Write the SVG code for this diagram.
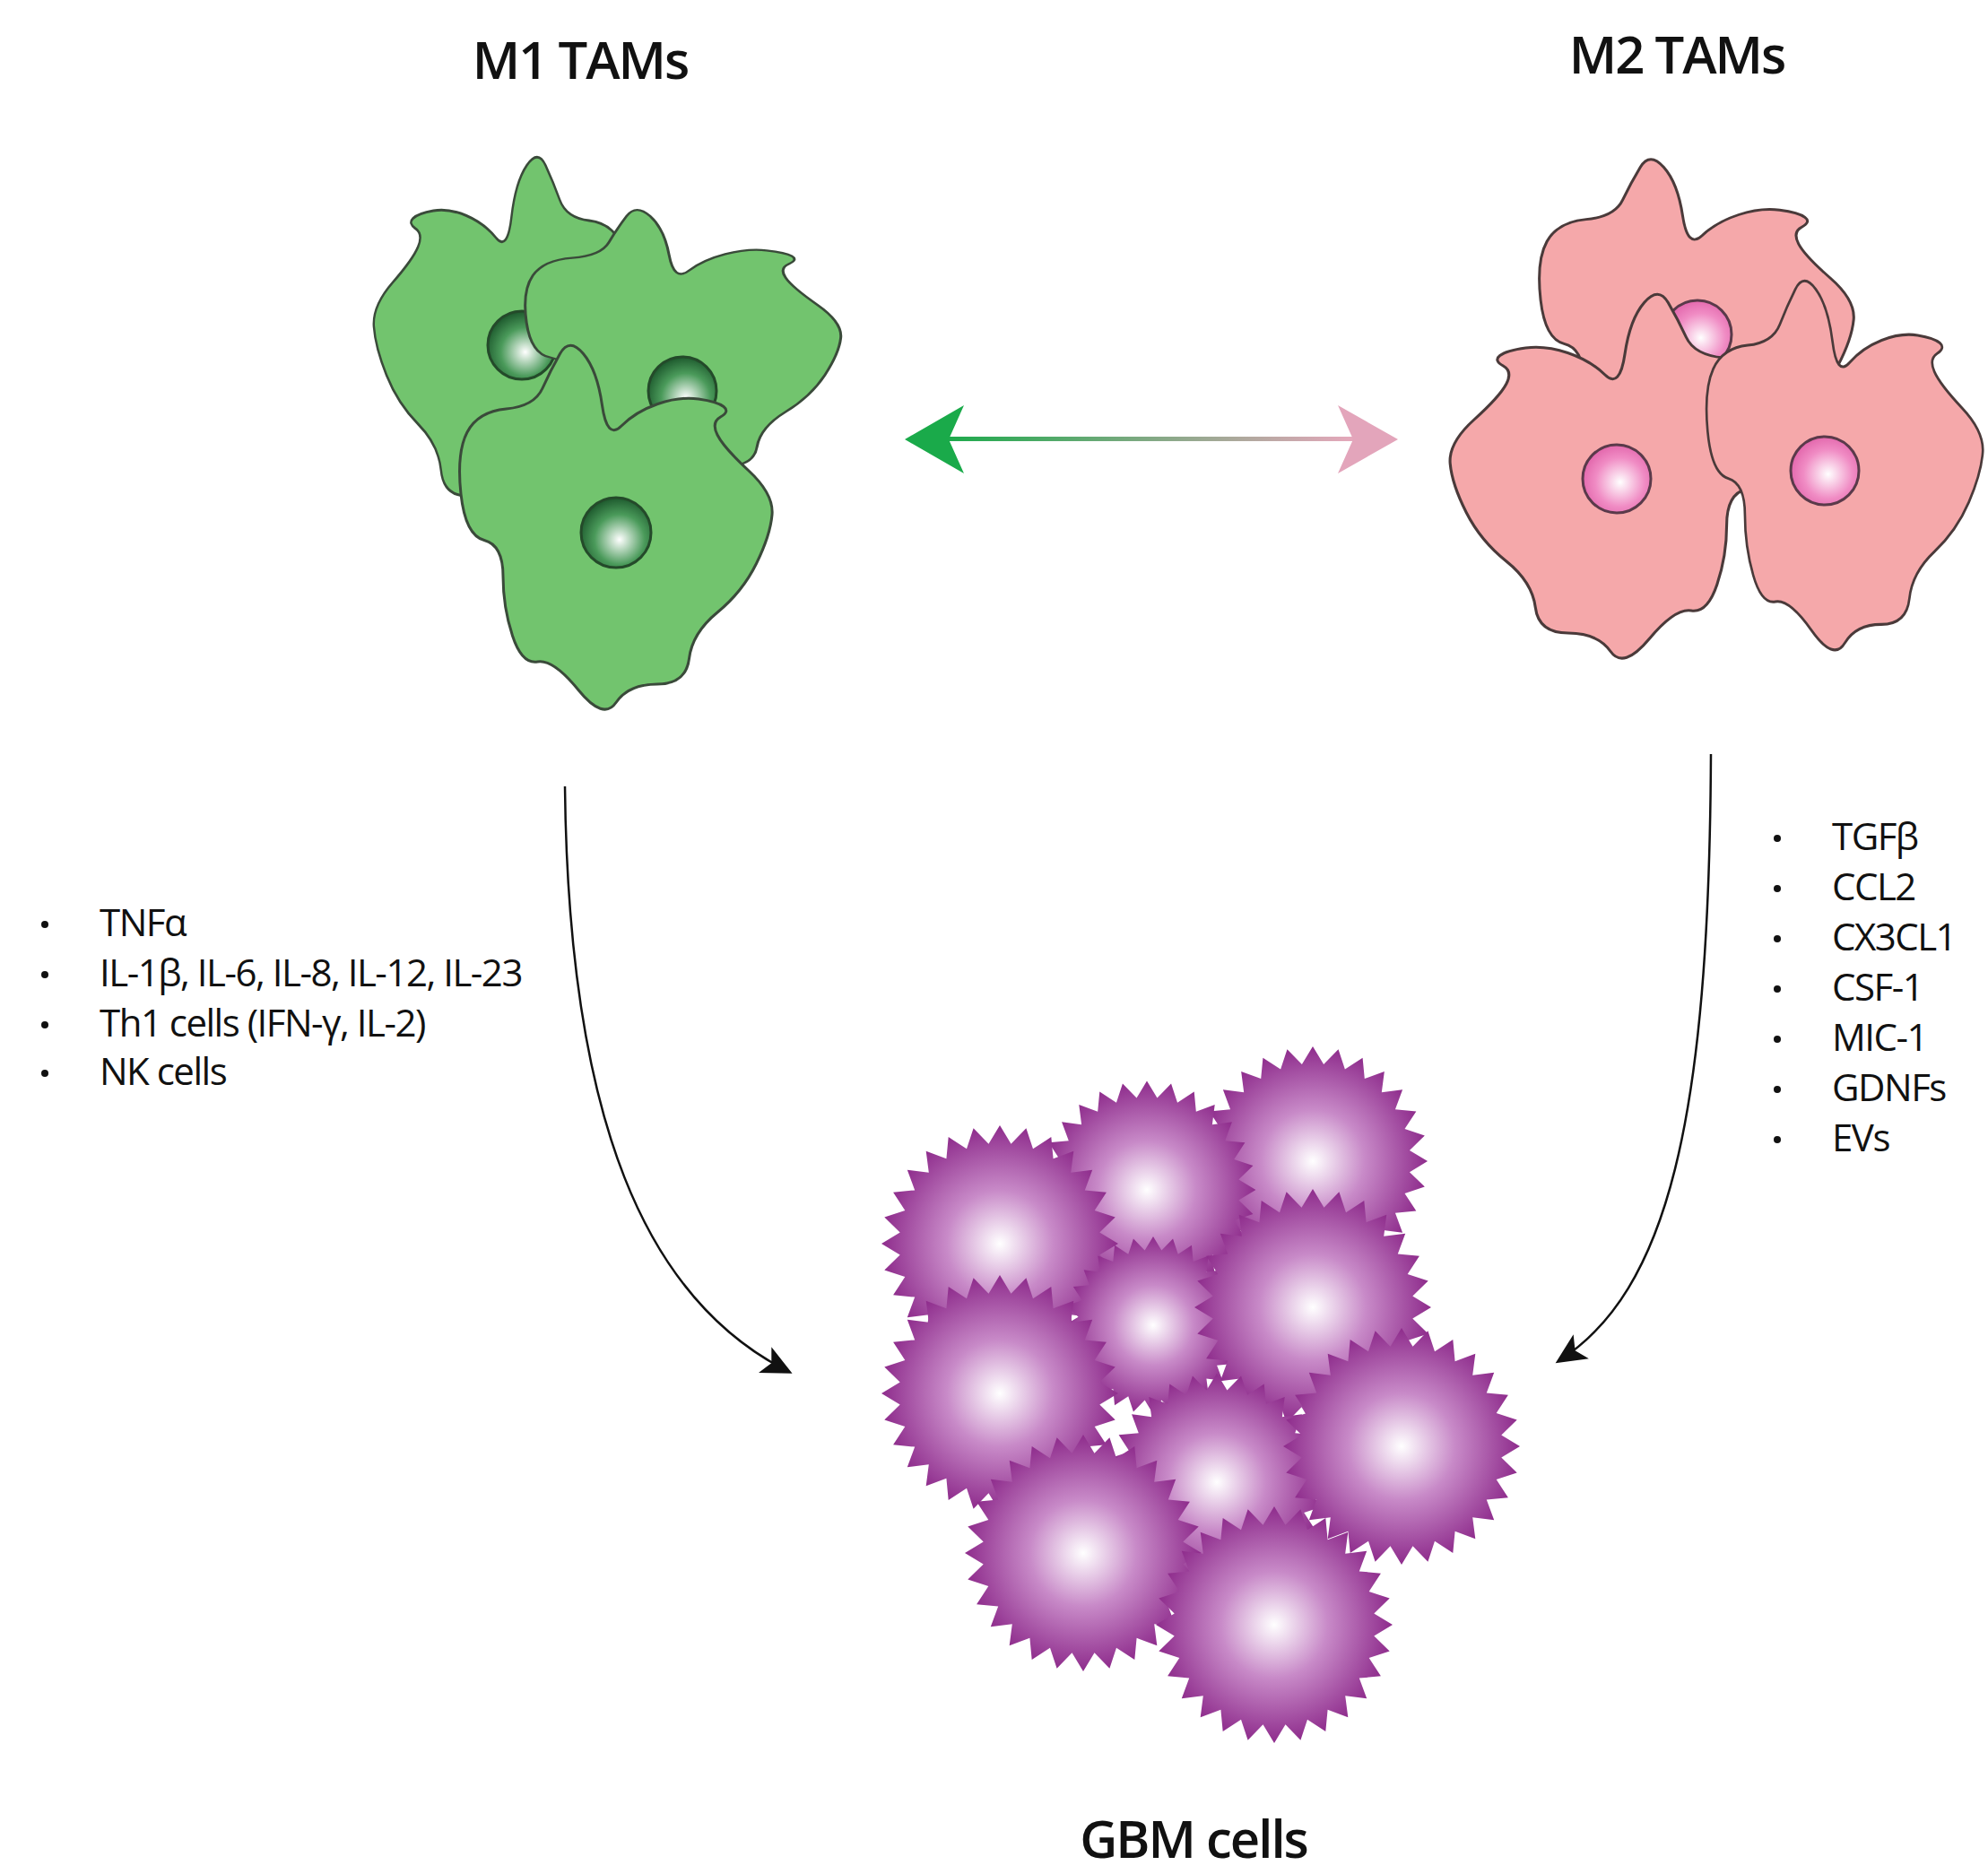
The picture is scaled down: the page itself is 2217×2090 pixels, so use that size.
<svg xmlns="http://www.w3.org/2000/svg" xmlns:xlink="http://www.w3.org/1999/xlink" width="2217" height="2090" viewBox="0 0 2217 2090">
<style>
text{font-family:"Open Sans","Liberation Sans",sans-serif;fill:#111}
.title{font-size:58px;font-weight:600;letter-spacing:-2px}
.lbl{font-size:42px;letter-spacing:-1.5px}
.gcell{fill:#72c46e;stroke:#3a4a3a;stroke-width:3}
.pcell{fill:#f5a8aa;stroke:#4a3a3a;stroke-width:3}
.gnuc{fill:url(#gn);stroke:#244a2a;stroke-width:3}
.pnuc{fill:url(#pn);stroke:#5a3a4a;stroke-width:3}
.conn{fill:none;stroke:#111;stroke-width:2.5}
</style>
<defs>
<radialGradient id="gn" cx="0.55" cy="0.6" r="0.6"><stop offset="0" stop-color="#fff"/><stop offset="0.6" stop-color="#4a9a5a"/><stop offset="1" stop-color="#1e5a2e"/></radialGradient>
<radialGradient id="pn" cx="0.55" cy="0.55" r="0.6"><stop offset="0" stop-color="#fff"/><stop offset="0.6" stop-color="#f08cc4"/><stop offset="1" stop-color="#e060a8"/></radialGradient>
<radialGradient id="tum" cx="0.5" cy="0.5" r="0.5"><stop offset="0" stop-color="#fff"/><stop offset="0.45" stop-color="#c88ac8"/><stop offset="1" stop-color="#8e2c8c"/></radialGradient>
<linearGradient id="arr" x1="0" x2="1" y1="0" y2="0"><stop offset="0" stop-color="#1aaa4a"/><stop offset="1" stop-color="#e6a8bc"/></linearGradient>
<path id="amoeba" d="M624.5,394.5 Q614,413 605,433 Q596,453 564.5,456 Q533,459 521,482 Q509,505 514,551 Q519,597 540,602.5 Q561,608 561,642.5 Q561,677 571.5,709 Q582,741 599.5,738 Q617,735 645,769.5 Q673,804 687,783.5 Q701,763 733,763 Q765,763 768.5,734.5 Q772,706 800,683 Q828,660 843.5,628.5 Q859,597 861,574 Q863,551 835,525 Q807,499 800,485 Q793,471 803.5,465 Q814,459 807,453.5 Q800,448 779,445 Q758,442 733.5,450.5 Q709,459 693,475 Q677,491 671.5,452 Q666,413 650.5,394.5 Q635,376 624.5,394.5 Z"/>
<path id="star" fill="url(#tum)" d="M132,0 L111.3,12.5 128.7,29.4 105.7,37 118.9,57.3 94.8,59.6 103.2,82.3 79.2,79.2 82.3,103.2 59.6,94.8 57.3,118.9 37,105.7 29.4,128.7 12.5,111.3 0,132 -12.5,111.3 -29.4,128.7 -37,105.7 -57.3,118.9 -59.6,94.8 -82.3,103.2 -79.2,79.2 -103.2,82.3 -94.8,59.6 -118.9,57.3 -105.7,37 -128.7,29.4 -111.3,12.5 -132,0 -111.3,-12.5 -128.7,-29.4 -105.7,-37 -118.9,-57.3 -94.8,-59.6 -103.2,-82.3 -79.2,-79.2 -82.3,-103.2 -59.6,-94.8 -57.3,-118.9 -37,-105.7 -29.4,-128.7 -12.5,-111.3 0,-132 12.5,-111.3 29.4,-128.7 37,-105.7 57.3,-118.9 59.6,-94.8 82.3,-103.2 79.2,-79.2 103.2,-82.3 94.8,-59.6 118.9,-57.3 105.7,-37 128.7,-29.4 111.3,-12.5 Z"/>
<marker id="ahb" markerWidth="36" markerHeight="36" refX="30" refY="18" orient="auto" markerUnits="userSpaceOnUse"><path d="M0,2 L34,18 L0,34 L8,18 Z" fill="#111"/></marker>
</defs>

<g id="m1-tams">
<text class="title" x="647" y="88" text-anchor="middle">M1 TAMs</text>
<use href="#amoeba" class="gcell" transform="matrix(-0.81 0 0 1 1114.3 -210)"/>
<circle class="gnuc" cx="582" cy="385" r="38"/>
<use href="#amoeba" class="gcell" transform="matrix(1.01 0 0 0.757 68 -57.6)"/>
<circle class="gnuc" cx="761" cy="436" r="38"/>
<use href="#amoeba" class="gcell"/>
<circle class="gnuc" cx="687" cy="594" r="39"/>
</g>

<g id="m2-tams">
<text class="title" x="1870" y="82" text-anchor="middle">M2 TAMs</text>
<use href="#amoeba" class="pcell" transform="matrix(1.006 0 0 0.946 1201 -186.7)"/>
<circle class="pnuc" cx="1893" cy="373" r="38"/>
<use href="#amoeba" class="pcell" transform="matrix(-1.028 0 0 1 2502.3 -57)"/>
<circle class="pnuc" cx="1803" cy="534" r="38"/>
<use href="#amoeba" class="pcell" transform="matrix(0.884 0 0 1.014 1450 -77.3)"/>
<circle class="pnuc" cx="2035" cy="525" r="38"/>
</g>

<g id="gbm-cells">
<use href="#star" transform="translate(1464,1295) scale(0.97)"/>
<use href="#star" transform="translate(1279,1327) scale(0.92)"/>
<use href="#star" transform="translate(1115,1387)"/>
<use href="#star" transform="translate(1286,1478) scale(0.75)"/>
<use href="#star" transform="translate(1464,1458)"/>
<use href="#star" transform="translate(1357,1653) scale(0.92)"/>
<use href="#star" transform="translate(1115,1554)"/>
<use href="#star" transform="translate(1563,1613)"/>
<use href="#star" transform="translate(1208,1732)"/>
<use href="#star" transform="translate(1421,1812)"/>
<text class="title" x="1331" y="2072" text-anchor="middle">GBM cells</text>
</g>

<g id="m1-factors">
<circle cx="50" cy="1031" r="4" fill="#111"/><text class="lbl" x="111" y="1044">TNFα</text>
<circle cx="50" cy="1087" r="4" fill="#111"/><text class="lbl" x="111" y="1100">IL-1β, IL-6, IL-8, IL-12, IL-23</text>
<circle cx="50" cy="1143" r="4" fill="#111"/><text class="lbl" x="111" y="1156">Th1 cells (IFN-γ, IL-2)</text>
<circle cx="50" cy="1197" r="4" fill="#111"/><text class="lbl" x="111" y="1210">NK cells</text>
</g>

<g id="m2-factors">
<circle cx="1982" cy="935" r="4" fill="#111"/><text class="lbl" x="2043" y="948">TGFβ</text>
<circle cx="1982" cy="991" r="4" fill="#111"/><text class="lbl" x="2043" y="1004">CCL2</text>
<circle cx="1982" cy="1047" r="4" fill="#111"/><text class="lbl" x="2043" y="1060">CX3CL1</text>
<circle cx="1982" cy="1103" r="4" fill="#111"/><text class="lbl" x="2043" y="1116">CSF-1</text>
<circle cx="1982" cy="1159" r="4" fill="#111"/><text class="lbl" x="2043" y="1172">MIC-1</text>
<circle cx="1982" cy="1215" r="4" fill="#111"/><text class="lbl" x="2043" y="1228">GDNFs</text>
<circle cx="1982" cy="1271" r="4" fill="#111"/><text class="lbl" x="2043" y="1284">EVs</text>
</g>

<g id="connectors">
<rect x="1050" y="487" width="460" height="5" fill="url(#arr)"/>
<path d="M1009,490 L1075,452 L1058,490 L1075,528 Z" fill="#1aaa4a"/>
<path d="M1559,490 L1492,452 L1509,490 L1492,528 Z" fill="#e3a5bb"/>
<path class="conn" d="M630,877 C634,1250 720,1450 880,1530" marker-end="url(#ahb)"/>
<path class="conn" d="M1908,841 C1906,1250 1860,1440 1738,1518" marker-end="url(#ahb)"/>
</g>
</svg>
